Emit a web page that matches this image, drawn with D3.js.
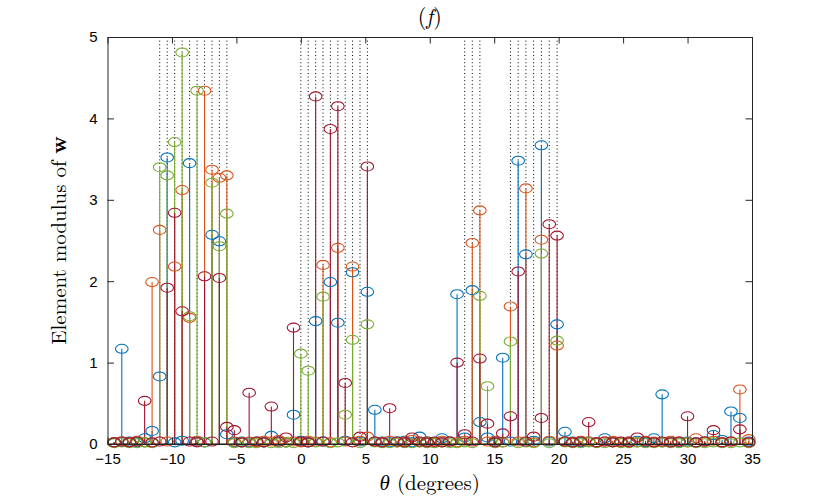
<!DOCTYPE html>
<html>
<head>
<meta charset="utf-8">
<script src="https://cdn.jsdelivr.net/npm/d3@7"></script>
<style>
  body { margin: 0; background: #fff; }
  svg { display: block; }
</style>
</head>
<body>
<svg width="830" height="498"></svg>
<script>
// angle grid (degrees), uniform in sin(theta)
const thetaGrid = [-14.48, -13.89, -13.30, -12.71, -12.12, -11.54, -10.95, -10.37, -9.79, -9.21,
  -8.63, -8.05, -7.47, -6.89, -6.32, -5.74, -5.16, -4.59, -4.01, -3.44,
  -2.87, -2.29, -1.72, -1.15, -0.57, 0.00, 0.57, 1.15, 1.72, 2.29,
  2.87, 3.44, 4.01, 4.59, 5.16, 5.74, 6.32, 6.89, 7.47, 8.05,
  8.63, 9.21, 9.79, 10.37, 10.95, 11.54, 12.12, 12.71, 13.30, 13.89,
  14.48, 15.07, 15.66, 16.26, 16.86, 17.46, 18.06, 18.66, 19.27, 19.88,
  20.49, 21.10, 21.72, 22.33, 22.95, 23.58, 24.20, 24.83, 25.47, 26.10,
  26.74, 27.39, 28.03, 28.69, 29.34, 30.00, 30.66, 31.33, 32.01, 32.68,
  33.37, 34.06, 34.75];

// true source directions (dotted lines)
const sourceDeg = [-10.95, -10.37, -9.79, -9.21, -8.63, -8.05, -7.47, -6.89, -6.32, -5.74,
  0.00, 0.57, 1.15, 1.72, 2.29, 2.87, 3.44, 4.01, 4.59, 5.16,
  12.71, 13.30, 13.89,
  16.26, 16.86, 17.46, 18.06, 18.66, 19.27, 19.88];

// |w| for each column
const wBlue = [0.02, 1.17, 0.03, 0.02, 0.07, 0.16, 0.83, 3.52, 0.02, 0.04,
  3.45, 0.03, 0.02, 2.57, 2.49, 0.12, 0.02, 0.03, 0.02, 0.03,
  0.02, 0.10, 0.03, 0.02, 0.36, 0.04, 0.02, 1.51, 0.03, 1.99,
  1.49, 0.04, 2.11, 0.03, 1.87, 0.42, 0.03, 0.02, 0.03, 0.04,
  0.02, 0.09, 0.03, 0.02, 0.07, 0.03, 1.84, 0.08, 1.89, 0.27,
  0.08, 0.03, 1.06, 0.03, 3.48, 2.33, 0.04, 3.67, 0.03, 1.47,
  0.15, 0.03, 0.02, 0.03, 0.02, 0.07, 0.03, 0.02, 0.03, 0.04,
  0.02, 0.07, 0.61, 0.03, 0.02, 0.03, 0.02, 0.03, 0.11, 0.05,
  0.40, 0.32, 0.03];

const wOrange = [0.02, 0.03, 0.02, 0.04, 0.02, 1.99, 2.63, 0.03, 2.18, 3.12,
  1.55, 0.04, 4.34, 3.37, 3.27, 3.30, 0.03, 0.02, 0.03, 0.02,
  0.04, 0.03, 0.05, 0.02, 0.03, 0.02, 0.04, 0.03, 2.20, 0.02,
  2.41, 0.03, 2.18, 0.04, 0.09, 0.03, 0.02, 0.04, 0.02, 0.03,
  0.05, 0.02, 0.03, 0.02, 0.04, 0.03, 0.02, 0.04, 2.47, 2.87,
  0.03, 0.04, 0.02, 1.69, 0.03, 3.14, 0.02, 2.51, 0.04, 1.21,
  0.03, 0.02, 0.04, 0.03, 0.02, 0.03, 0.04, 0.02, 0.03, 0.02,
  0.04, 0.03, 0.02, 0.04, 0.03, 0.02, 0.07, 0.03, 0.04, 0.02,
  0.03, 0.67, 0.06];

const wGreen = [0.01, 0.02, 0.01, 0.01, 0.02, 0.01, 3.40, 3.30, 3.71, 4.81,
  1.57, 4.34, 0.02, 3.21, 2.43, 2.83, 0.01, 0.02, 0.01, 0.01,
  0.02, 0.01, 0.01, 0.02, 0.01, 1.11, 0.90, 0.02, 1.81, 0.01,
  0.02, 0.36, 1.28, 0.01, 1.47, 0.02, 0.01, 0.01, 0.02, 0.01,
  0.01, 0.02, 0.01, 0.01, 0.02, 0.01, 0.01, 0.02, 0.01, 1.82,
  0.71, 0.01, 0.02, 1.26, 0.01, 0.02, 0.01, 2.34, 0.01, 1.27,
  0.02, 0.01, 0.01, 0.02, 0.01, 0.01, 0.02, 0.01, 0.01, 0.02,
  0.01, 0.01, 0.02, 0.01, 0.01, 0.02, 0.01, 0.01, 0.02, 0.01,
  0.01, 0.02, 0.01];

const wRed = [0.02, 0.03, 0.02, 0.03, 0.53, 0.02, 0.03, 1.92, 2.84, 1.63,
  0.03, 0.02, 2.06, 0.03, 2.04, 0.21, 0.17, 0.02, 0.63, 0.03,
  0.02, 0.46, 0.03, 0.08, 1.43, 0.03, 0.02, 4.27, 0.03, 3.87,
  4.15, 0.75, 0.02, 0.09, 3.41, 0.03, 0.02, 0.44, 0.03, 0.02,
  0.08, 0.03, 0.02, 0.03, 0.02, 0.03, 1.00, 0.12, 0.03, 1.05,
  0.25, 0.02, 0.13, 0.34, 2.12, 0.03, 0.09, 0.32, 2.70, 2.56,
  0.03, 0.02, 0.03, 0.27, 0.02, 0.03, 0.02, 0.03, 0.02, 0.08,
  0.03, 0.02, 0.03, 0.02, 0.03, 0.34, 0.02, 0.03, 0.17, 0.02,
  0.03, 0.18, 0.02];

const seriesColors = ["#0072BD", "#D95319", "#77AC30", "#A2142F"];
const xTicks = [-15, -10, -5, 0, 5, 10, 15, 20, 25, 30, 35];
const yTicks = [0, 1, 2, 3, 4, 5];

const svg = d3.select("svg");
const area = { left: 107.5, right: 752, top: 37, bottom: 444 };

const scX = d3.scaleLinear().domain([-15, 35]).range([area.left, area.right]);
const scY = d3.scaleLinear().domain([0, 5]).range([area.bottom, area.top]);

// dotted lines at the true directions
svg.append("g").selectAll("line")
  .data(sourceDeg)
  .enter().append("line")
  .attr("x1", d => scX(d)).attr("x2", d => scX(d))
  .attr("y1", scY(5)).attr("y2", scY(0))
  .attr("stroke", "#000")
  .attr("stroke-width", 1)
  .attr("stroke-dasharray", "1,2.6");

// stems
const allSeries = [wBlue, wOrange, wGreen, wRed];
allSeries.forEach((vals, k) => {
  const pts = vals.map((v, i) => ({ t: thetaGrid[i], v: v }));
  svg.append("g").selectAll("line")
    .data(pts)
    .enter().append("line")
    .attr("x1", d => scX(d.t)).attr("x2", d => scX(d.t))
    .attr("y1", scY(0)).attr("y2", d => scY(d.v))
    .attr("stroke", seriesColors[k])
    .attr("stroke-width", 1.1);
});

// baseline
svg.append("line")
  .attr("x1", area.left).attr("x2", area.right)
  .attr("y1", scY(0)).attr("y2", scY(0))
  .attr("stroke", "#000").attr("stroke-width", 1);

// markers
allSeries.forEach((vals, k) => {
  const pts = vals.map((v, i) => ({ t: thetaGrid[i], v: v }));
  svg.append("g").selectAll("ellipse")
    .data(pts)
    .enter().append("ellipse")
    .attr("cx", d => scX(d.t))
    .attr("cy", d => scY(d.v))
    .attr("rx", 6.3).attr("ry", 4.5)
    .attr("fill", "none")
    .attr("stroke", seriesColors[k])
    .attr("stroke-width", 1.1);
});

// axes (box with inward ticks)
const tickLen = 6.5;
const axisColor = "#262626";
const tickFont = "Liberation Sans, Arial, sans-serif";

const axB = d3.axisBottom(scX).tickValues(xTicks).tickSizeInner(-tickLen).tickSizeOuter(0).tickPadding(9);
const axT = d3.axisTop(scX).tickValues(xTicks).tickSizeInner(-tickLen).tickSizeOuter(0).tickFormat("");
const axL = d3.axisLeft(scY).tickValues(yTicks).tickFormat(d3.format("d")).tickSizeInner(-tickLen).tickSizeOuter(0).tickPadding(10);
const axR = d3.axisRight(scY).tickValues(yTicks).tickSizeInner(-tickLen).tickSizeOuter(0).tickFormat("");

function styleAxis(g) {
  g.selectAll("path").attr("stroke", axisColor).attr("stroke-width", 1);
  g.selectAll("line").attr("stroke", axisColor).attr("stroke-width", 1);
  g.selectAll("text").attr("fill", "#000").style("font-family", tickFont).style("font-size", "15px");
}

svg.append("g").attr("transform", `translate(0,${area.bottom})`).call(axB).call(styleAxis);
svg.append("g").attr("transform", `translate(0,${area.top})`).call(axT).call(styleAxis);
svg.append("g").attr("transform", `translate(${area.left},0)`).call(axL).call(styleAxis);
svg.append("g").attr("transform", `translate(${area.right},0)`).call(axR).call(styleAxis);

// labels
const serif = "Latin Modern Roman, Liberation Serif, Times New Roman, serif";
const midX = (area.left + area.right) / 2;

svg.append("text")
  .attr("x", midX).attr("y", 24)
  .attr("text-anchor", "middle")
  .style("font-family", serif).style("font-size", "22px")
  .html('(<tspan font-style="italic">f</tspan>)');

svg.append("text")
  .attr("x", midX).attr("y", 490)
  .attr("text-anchor", "middle")
  .style("font-family", serif).style("font-size", "21px")
  .html('<tspan font-style="italic">θ</tspan> (degrees)');

svg.append("text")
  .attr("transform", `translate(66,${(area.top + area.bottom) / 2}) rotate(-90)`)
  .attr("text-anchor", "middle")
  .style("font-family", serif).style("font-size", "21px")
  .html('Element modulus of <tspan font-weight="bold">w</tspan>');
</script>
</body>
</html>
